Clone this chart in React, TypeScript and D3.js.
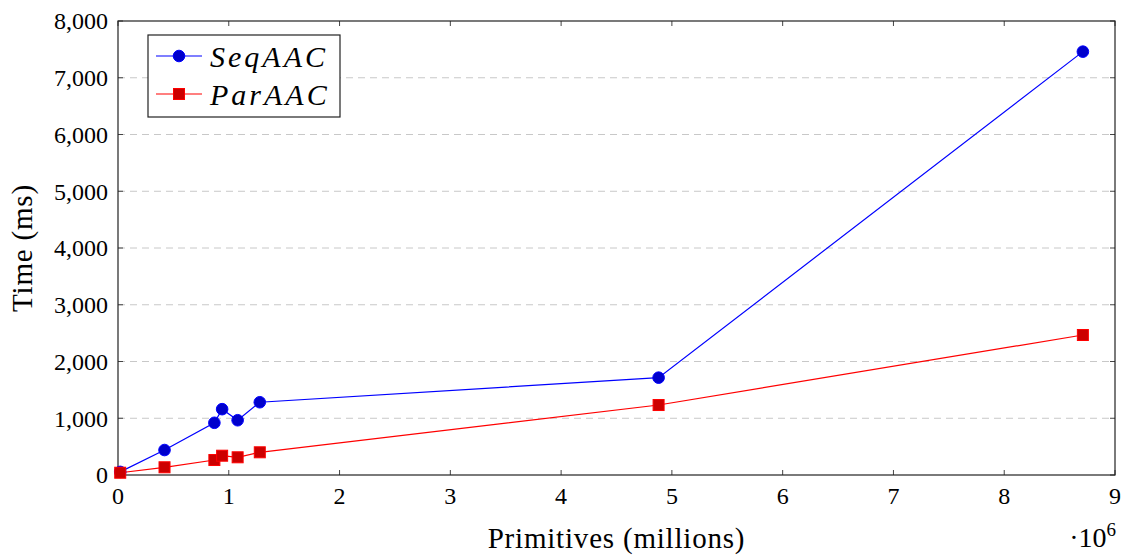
import { useEffect, useRef } from "react";
import * as d3 from "d3";

// values (x in millions of primitives, y in ms)
const primitives = [0.02, 0.42, 0.87, 0.94, 1.08, 1.28, 4.88, 8.71];
const seqTimes = [55, 440, 920, 1160, 965, 1282, 1715, 7460];
const parTimes = [40, 136, 264, 340, 312, 400, 1233, 2467];
const xTicks = [0, 1, 2, 3, 4, 5, 6, 7, 8, 9];
const yTicks = [0, 1000, 2000, 3000, 4000, 5000, 6000, 7000, 8000];

const W = 1132;
const H = 556;
const margin = { top: 21, right: 17, bottom: 81, left: 118 };
const FONT = "'Liberation Serif', serif";

export default function App() {
  const svgRef = useRef<SVGSVGElement>(null);

  useEffect(() => {
    const svg = d3.select(svgRef.current);
    svg.selectAll("*").remove();

    const bw = W - margin.left - margin.right;
    const bh = H - margin.top - margin.bottom;

    const x = d3.scaleLinear().domain([0, 9]).range([0, bw]);
    const y = d3.scaleLinear().domain([0, 8000]).range([bh, 0]);

    const g = svg
      .append("g")
      .attr("transform", `translate(${margin.left},${margin.top})`);

    // dashed horizontal grid
    g.selectAll(".grid")
      .data(yTicks.filter((t) => t > 0 && t < 8000))
      .enter()
      .append("line")
      .attr("x1", 0)
      .attr("x2", bw)
      .attr("y1", (d) => y(d))
      .attr("y2", (d) => y(d))
      .attr("stroke", "#c8c8c8")
      .attr("stroke-width", 1)
      .attr("stroke-dasharray", "7,5");

    // inward ticks on all four sides
    const tickLen = 5;
    xTicks.forEach((t) => {
      g.append("line")
        .attr("x1", x(t)).attr("x2", x(t))
        .attr("y1", bh).attr("y2", bh - tickLen)
        .attr("stroke", "#444");
      g.append("line")
        .attr("x1", x(t)).attr("x2", x(t))
        .attr("y1", 0).attr("y2", tickLen)
        .attr("stroke", "#444");
      g.append("text")
        .attr("x", x(t))
        .attr("y", bh + 29)
        .attr("text-anchor", "middle")
        .attr("font-family", FONT)
        .attr("font-size", 24)
        .text(t);
    });
    yTicks.forEach((t) => {
      g.append("line")
        .attr("x1", 0).attr("x2", tickLen)
        .attr("y1", y(t)).attr("y2", y(t))
        .attr("stroke", "#444");
      g.append("line")
        .attr("x1", bw).attr("x2", bw - tickLen)
        .attr("y1", y(t)).attr("y2", y(t))
        .attr("stroke", "#444");
      g.append("text")
        .attr("x", -10)
        .attr("y", y(t))
        .attr("dy", "0.35em")
        .attr("text-anchor", "end")
        .attr("font-family", FONT)
        .attr("font-size", 24)
        .text(d3.format(",")(t));
    });

    // frame
    g.append("rect")
      .attr("width", bw)
      .attr("height", bh)
      .attr("fill", "none")
      .attr("stroke", "#222")
      .attr("stroke-width", 1.2);

    const seq = primitives.map((p, i) => [p, seqTimes[i]] as [number, number]);
    const par = primitives.map((p, i) => [p, parTimes[i]] as [number, number]);

    const line = d3
      .line<[number, number]>()
      .x((d) => x(d[0]))
      .y((d) => y(d[1]));

    g.append("path")
      .datum(seq)
      .attr("fill", "none")
      .attr("stroke", "#0000ff")
      .attr("stroke-width", 1.2)
      .attr("d", line);

    g.append("path")
      .datum(par)
      .attr("fill", "none")
      .attr("stroke", "#ff0000")
      .attr("stroke-width", 1.2)
      .attr("d", line);

    g.selectAll(".seq")
      .data(seq)
      .enter()
      .append("circle")
      .attr("cx", (d) => x(d[0]))
      .attr("cy", (d) => y(d[1]))
      .attr("r", 5.8)
      .attr("fill", "#0000cc")
      .attr("stroke", "#0000ff")
      .attr("stroke-width", 1);

    const sq = 11;
    g.selectAll(".par")
      .data(par)
      .enter()
      .append("rect")
      .attr("x", (d) => x(d[0]) - sq / 2)
      .attr("y", (d) => y(d[1]) - sq / 2)
      .attr("width", sq)
      .attr("height", sq)
      .attr("fill", "#cc0000")
      .attr("stroke", "#ff0000")
      .attr("stroke-width", 1);

    // legend
    const lg = svg.append("g").attr("transform", "translate(148,35)");
    lg.append("rect")
      .attr("width", 192)
      .attr("height", 82)
      .attr("fill", "white")
      .attr("stroke", "#222")
      .attr("stroke-width", 1.2);
    const entries = [
      { label: "SeqAAC", color: "#0000ff", fill: "#0000cc", shape: "circle" },
      { label: "ParAAC", color: "#ff0000", fill: "#cc0000", shape: "square" },
    ];
    entries.forEach((e, i) => {
      const cy = 21 + i * 38;
      lg.append("line")
        .attr("x1", 8).attr("x2", 54)
        .attr("y1", cy).attr("y2", cy)
        .attr("stroke", e.color)
        .attr("stroke-width", 1.2);
      if (e.shape === "circle") {
        lg.append("circle")
          .attr("cx", 31).attr("cy", cy).attr("r", 5.8)
          .attr("fill", e.fill).attr("stroke", e.color);
      } else {
        lg.append("rect")
          .attr("x", 31 - sq / 2).attr("y", cy - sq / 2)
          .attr("width", sq).attr("height", sq)
          .attr("fill", e.fill).attr("stroke", e.color);
      }
      lg.append("text")
        .attr("x", 62)
        .attr("y", cy)
        .attr("dy", "0.35em")
        .attr("font-family", FONT)
        .attr("font-style", "italic")
        .attr("font-size", 30)
        .attr("letter-spacing", 3)
        .text(e.label);
    });

    // axis labels
    svg.append("text")
      .attr("x", margin.left + bw / 2)
      .attr("y", 548)
      .attr("text-anchor", "middle")
      .attr("font-family", FONT)
      .attr("font-size", 29)
      .attr("letter-spacing", 0.8)
      .text("Primitives (millions)");

    svg.append("text")
      .attr("transform", `translate(32,${margin.top + bh / 2}) rotate(-90)`)
      .attr("text-anchor", "middle")
      .attr("font-family", FONT)
      .attr("font-size", 29)
      .attr("letter-spacing", 0.8)
      .text("Time (ms)");

    const mult = svg.append("text")
      .attr("x", 1116)
      .attr("y", 547)
      .attr("text-anchor", "end")
      .attr("font-family", FONT)
      .attr("font-size", 28);
    mult.append("tspan").text("·10");
    mult.append("tspan")
      .attr("font-size", 19)
      .attr("dy", -11)
      .text("6");
  }, []);

  return (
    <svg
      ref={svgRef}
      width={W}
      height={H}
      style={{ position: "absolute", left: 0, top: 0, background: "white" }}
    />
  );
}
